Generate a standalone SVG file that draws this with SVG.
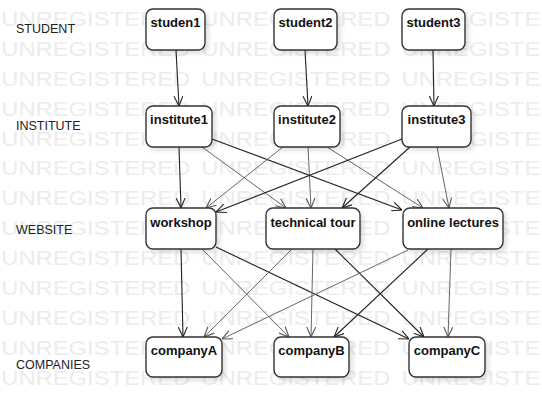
<svg xmlns="http://www.w3.org/2000/svg" width="542" height="418" viewBox="0 0 542 418">
<style>
.wm{font-family:"Liberation Sans",Arial,sans-serif;font-size:19.5px;fill:#ececec;word-spacing:3.7px}
.lane{font-family:"Liberation Sans",Arial,sans-serif;font-size:12.5px;fill:#222}
.box{fill:#fff;stroke:#333;stroke-width:1.4;filter:url(#sh)}
.lbl{font-family:"Liberation Sans",Arial,sans-serif;font-size:13px;font-weight:bold;fill:#111;text-anchor:middle}
.d{stroke:#222;stroke-width:1.1;fill:none;marker-end:url(#ad)}
.g{stroke:#666;stroke-width:1;fill:none;marker-end:url(#ag)}
</style>
<defs>
<filter id="sh" x="-20%" y="-20%" width="150%" height="150%">
<feDropShadow dx="3" dy="3" stdDeviation="2" flood-color="#000" flood-opacity="0.12"/>
</filter>
<marker id="ad" viewBox="0 0 10 10" refX="10" refY="5" markerWidth="10" markerHeight="10" markerUnits="userSpaceOnUse" orient="auto">
<path d="M0,0.5 L10,5 L0,9.5" fill="none" stroke="#222" stroke-width="1.1"/>
</marker>
<marker id="ag" viewBox="0 0 10 10" refX="10" refY="5" markerWidth="10" markerHeight="10" markerUnits="userSpaceOnUse" orient="auto">
<path d="M0,0.5 L10,5 L0,9.5" fill="none" stroke="#555" stroke-width="1.1"/>
</marker>
</defs>
<rect width="542" height="418" fill="#fff"/>
<g id="watermark" transform="scale(1.22,1)">
<text class="wm" x="1" y="26">UNREGISTERED UNREGISTERED UNREGISTERED</text>
<text class="wm" x="1" y="55.9">UNREGISTERED UNREGISTERED UNREGISTERED</text>
<text class="wm" x="1" y="85.8">UNREGISTERED UNREGISTERED UNREGISTERED</text>
<text class="wm" x="1" y="115.7">UNREGISTERED UNREGISTERED UNREGISTERED</text>
<text class="wm" x="1" y="145.6">UNREGISTERED UNREGISTERED UNREGISTERED</text>
<text class="wm" x="1" y="175.5">UNREGISTERED UNREGISTERED UNREGISTERED</text>
<text class="wm" x="1" y="205.4">UNREGISTERED UNREGISTERED UNREGISTERED</text>
<text class="wm" x="1" y="235.3">UNREGISTERED UNREGISTERED UNREGISTERED</text>
<text class="wm" x="1" y="265.2">UNREGISTERED UNREGISTERED UNREGISTERED</text>
<text class="wm" x="1" y="295.1">UNREGISTERED UNREGISTERED UNREGISTERED</text>
<text class="wm" x="1" y="325">UNREGISTERED UNREGISTERED UNREGISTERED</text>
<text class="wm" x="1" y="354.9">UNREGISTERED UNREGISTERED UNREGISTERED</text>
<text class="wm" x="1" y="384.8">UNREGISTERED UNREGISTERED UNREGISTERED</text>
</g>
<g id="lanes">
<text class="lane" x="16" y="32.5">STUDENT</text>
<text class="lane" x="16" y="130">INSTITUTE</text>
<text class="lane" x="16" y="233.5">WEBSITE</text>
<text class="lane" x="16" y="369">COMPANIES</text>
</g>
<g id="connectors">
<path class="d" d="M176,50 L179,106"/>
<path class="d" d="M305,50 L308,106"/>
<path class="d" d="M433,50 L434,106"/>
<path class="d" d="M179,147 L181,208"/>
<path class="g" d="M202,147 L286,208"/>
<path class="d" d="M212,139 L402,210"/>
<path class="g" d="M283,147 L206,208"/>
<path class="g" d="M308,147 L311,208"/>
<path class="g" d="M327,147 L423,208"/>
<path class="d" d="M402,139 L216,212"/>
<path class="d" d="M410,147 L342,208"/>
<path class="g" d="M437,147 L449,208"/>
<path class="d" d="M181,249 L183,337"/>
<path class="g" d="M202,249 L289,337"/>
<path class="d" d="M216,247 L409,339"/>
<path class="g" d="M292,249 L204,337"/>
<path class="g" d="M313,249 L311,337"/>
<path class="d" d="M335,249 L424,337"/>
<path class="g" d="M408,250 L222,339"/>
<path class="d" d="M428,249 L334,337"/>
<path class="g" d="M451,249 L448,337"/>
</g>
<g id="studen1"><rect class="box" x="146" y="9" width="59" height="41" rx="7"/><text class="lbl" x="175.5" y="27">studen1</text></g>
<g id="student2"><rect class="box" x="274" y="9" width="63" height="41" rx="7"/><text class="lbl" x="305.5" y="27">student2</text></g>
<g id="student3"><rect class="box" x="402" y="9" width="63" height="41" rx="7"/><text class="lbl" x="433.5" y="27">student3</text></g>
<g id="institute1"><rect class="box" x="146" y="106" width="66" height="41" rx="7"/><text class="lbl" x="179" y="124">institute1</text></g>
<g id="institute2"><rect class="box" x="274" y="106" width="66" height="41" rx="7"/><text class="lbl" x="307" y="124">institute2</text></g>
<g id="institute3"><rect class="box" x="402" y="106" width="69" height="41" rx="7"/><text class="lbl" x="436.5" y="124">institute3</text></g>
<g id="workshop"><rect class="box" x="146" y="208" width="70" height="41" rx="7"/><text class="lbl" x="181" y="226.5">workshop</text></g>
<g id="technical-tour"><rect class="box" x="266" y="208" width="94" height="41" rx="7"/><text class="lbl" x="313" y="226.5">technical tour</text></g>
<g id="online-lectures"><rect class="box" x="403" y="208" width="100" height="41" rx="7"/><text class="lbl" x="453" y="226.5">online lectures</text></g>
<g id="companyA"><rect class="box" x="146" y="337" width="76" height="40" rx="7"/><text class="lbl" x="184" y="355">companyA</text></g>
<g id="companyB"><rect class="box" x="274" y="337" width="75" height="40" rx="7"/><text class="lbl" x="311.5" y="355">companyB</text></g>
<g id="companyC"><rect class="box" x="409" y="337" width="76" height="40" rx="7"/><text class="lbl" x="447" y="355">companyC</text></g>
</svg>
